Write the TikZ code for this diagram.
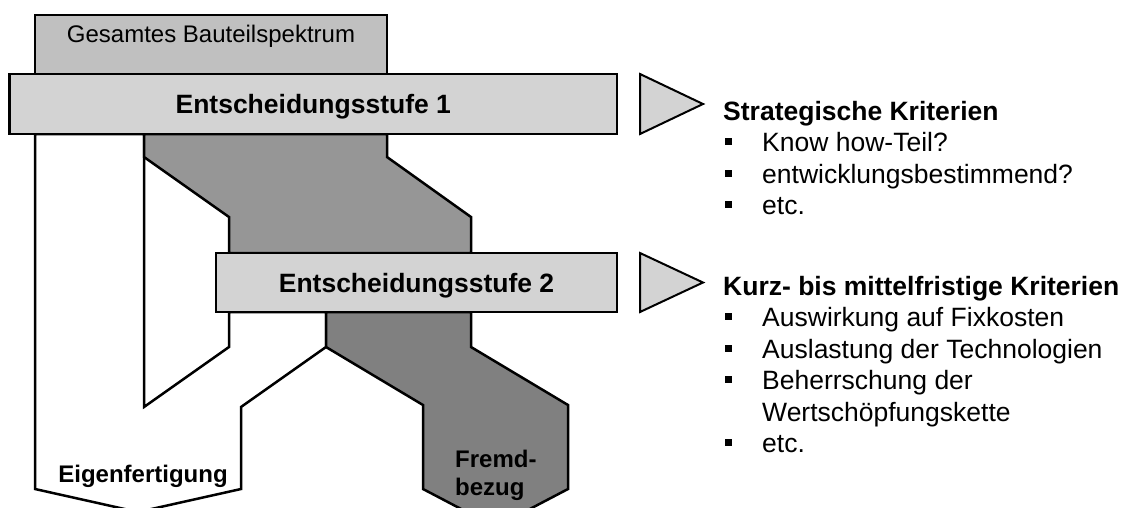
\documentclass[tikz,border=0pt]{standalone}
\usepackage{fontspec}
\setmainfont{Liberation Sans}
\definecolor{boxlight}{HTML}{D3D3D3}
\definecolor{boxmid}{HTML}{C0C0C0}
\definecolor{flowone}{HTML}{969696}
\definecolor{flowtwo}{HTML}{808080}
\begin{document}
\begin{tikzpicture}[x=1pt,y=-1pt,
  outline/.style={draw=black,line width=2.5pt,line join=miter},
  stagebox/.style={outline,fill=boxlight,rectangle,inner sep=0pt,
    text height=19pt,text depth=0pt,
    font=\fontsize{26.5}{31.5}\selectfont\bfseries},
  pointer/.style={draw=black,line width=2pt,line join=miter,fill=boxlight},
  flowlabel/.style={inner sep=0pt,font=\fontsize{24}{28}\selectfont\bfseries},
  heading/.style={anchor=base west,inner sep=0pt,
    font=\fontsize{26.5}{31.5}\selectfont\bfseries},
  item/.style={anchor=base west,inner sep=0pt,
    font=\fontsize{26.5}{31.5}\selectfont},
  bulletsq/.style={fill=black,rectangle,inner sep=0pt,minimum size=7pt}
]
\useasboundingbox (0,0) rectangle (1126,507);
\clip (0,0) rectangle (1126,507);

% whole part range
\node[outline,fill=boxmid,rectangle,inner sep=0pt,
      minimum width=352pt,minimum height=59pt] (spectrum) at (211,44.5) {};
\node[anchor=base,inner sep=0pt,font=\fontsize{24}{28}\selectfont]
  (spectrumtext) at (211,42) {Gesamtes Bauteilspektrum};

% in-house production branch
\draw[outline,fill=white]
  (35,134) -- (144,134) -- (144,407) -- (229,347) -- (229,312)
  -- (326,312) -- (326,347) -- (241,407) -- (241,489)
  -- (138,512) -- (35,489) -- cycle;

% flow passed on to the second stage
\draw[outline,fill=flowone]
  (144,134) -- (387,134) -- (387,157) -- (471,217) -- (471,253)
  -- (229,253) -- (229,217) -- (144,157) -- cycle;

% external procurement branch
\draw[outline,fill=flowtwo]
  (326,312) -- (471,312) -- (471,347) -- (568,405) -- (568,489)
  -- (495.5,527) -- (423,489) -- (423,405) -- (326,347) -- cycle;

% decision stages
\node[stagebox,minimum width=607.5pt,minimum height=60pt]
  (stage1) at (313.25,104) {Entscheidungsstufe 1};
\node[stagebox,minimum width=401pt,minimum height=59pt]
  (stage2) at (416.5,282.5) {Entscheidungsstufe 2};

% branch labels
\node[flowlabel,anchor=base] (eigen) at (143,482) {Eigenfertigung};
\node[flowlabel,anchor=base west] (fremd1) at (455,467) {Fremd-};
\node[flowlabel,anchor=base west] (fremd2) at (455,495) {bezug};

% pointers to the criteria
\draw[pointer] (640,74) -- (703,104) -- (640,134) -- cycle;
\draw[pointer] (640,253) -- (703,282.5) -- (640,312) -- cycle;

% strategic criteria
\node[heading] (h1) at (723,120) {Strategische Kriterien};
\node[bulletsq] (b11) at (728.5,141.5) {};
\node[item] (i11) at (762,151.5) {Know how-Teil?};
\node[bulletsq] (b12) at (728.5,173) {};
\node[item] (i12) at (762,183) {entwicklungsbestimmend?};
\node[bulletsq] (b13) at (728.5,204.5) {};
\node[item] (i13) at (762,214.5) {etc.};

% short- to medium-term criteria
\node[heading] (h2) at (723,295) {Kurz- bis mittelfristige Kriterien};
\node[bulletsq] (b21) at (728.5,316.5) {};
\node[item] (i21) at (762,326.5) {Auswirkung auf Fixkosten};
\node[bulletsq] (b22) at (728.5,348) {};
\node[item] (i22) at (762,358) {Auslastung der Technologien};
\node[bulletsq] (b23) at (728.5,379.5) {};
\node[item] (i23) at (762,389.5) {Beherrschung der};
\node[item] (i23b) at (762,421) {Wertschöpfungskette};
\node[bulletsq] (b24) at (728.5,442.5) {};
\node[item] (i24) at (762,452.5) {etc.};
\end{tikzpicture}
\end{document}
